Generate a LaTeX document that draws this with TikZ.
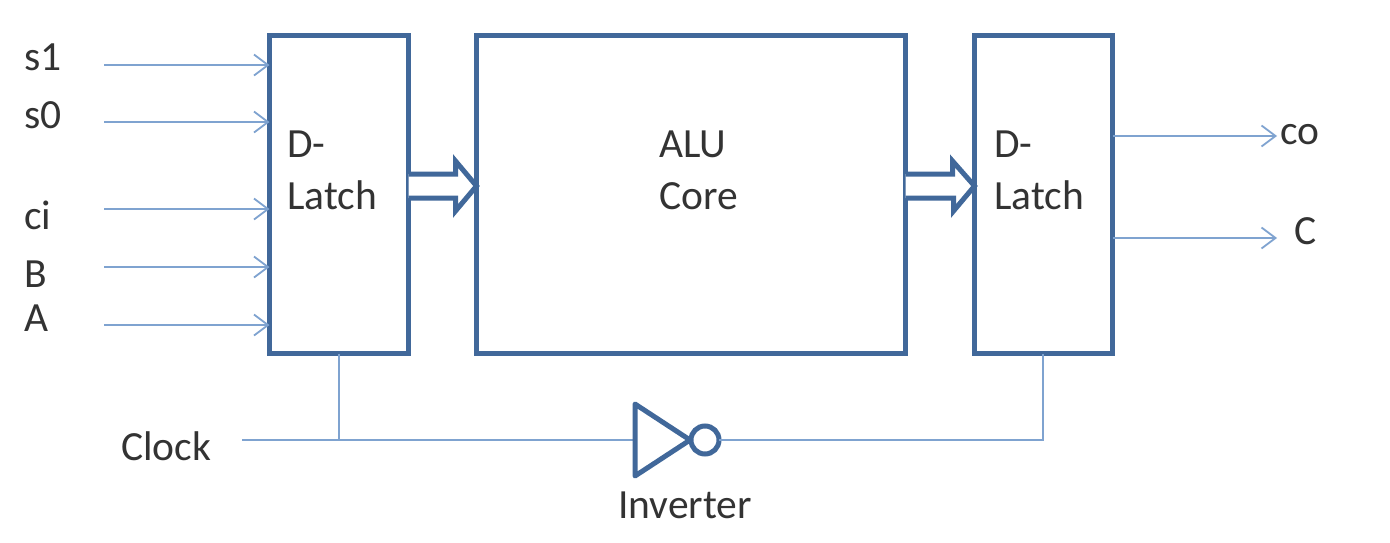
\documentclass[tikz,border=0pt]{standalone}
\usepackage{fontspec}
\setmainfont{Carlito}
\usetikzlibrary{arrows.meta}
\definecolor{thick}{HTML}{41689A}
\definecolor{thin}{HTML}{7FA3D0}
\definecolor{ink}{HTML}{333333}
\tikzset{
  x=1pt,y=-1pt,
  blockbox/.style={draw=thick,line width=5pt,fill=white,inner sep=0pt,outer sep=0pt,minimum width=#1,minimum height=318pt,anchor=north west},
  wire/.style={draw=thin,line width=1.8pt},
  inwire/.style={wire,-{Straight Barb[length=14pt,width=21pt,line width=1.8pt]}},
  bigarrow/.style={draw=thick,line width=5pt,fill=white,line join=miter},
  invshape/.style={draw=thick,line width=5pt,line join=round,fill=white},
  lab/.style={text=ink,font=\fontsize{41.5pt}{41.5pt}\selectfont,inner sep=0pt,anchor=base west},
}
\begin{document}
\begin{tikzpicture}
\useasboundingbox (0,0) rectangle (1390,542);
\fill[white] (0,0) rectangle (1390,542);
% blocks
\node[blockbox=139pt] (latchL) at (269.5,35.5) {};
\node[blockbox=429pt] (alu) at (476.5,35.5) {};
\node[blockbox=138pt] (latchR) at (974.5,35.5) {};
% wide arrows
\coordinate (a1s) at (latchL.east |- 0,186);
\coordinate (a1e) at (alu.west |- 0,186);
\coordinate (a2s) at (alu.east |- 0,186);
\coordinate (a2e) at (latchR.west |- 0,186);
\draw[bigarrow] ([yshift=12pt]a1s) -- ++(47,0) -- ++(0,-13) -- (a1e) -- ++(-21,25) -- ++(0,-13) -- ([yshift=-12pt]a1s);
\draw[bigarrow] ([yshift=12pt]a2s) -- ++(47,0) -- ++(0,-13) -- (a2e) -- ++(-21,25) -- ++(0,-13) -- ([yshift=-12pt]a2s);
% input labels and wires
\node[lab] (ls1) at (24,70) {s1};
\node[lab] (ls0) at (24,128) {s0};
\node[lab] (lci) at (24,229) {ci};
\node[lab] (lB) at (24,287) {B};
\node[lab] (lA) at (24,331) {A};
\coordinate (is1) at (104,65);
\coordinate (is0) at (104,122);
\coordinate (ici) at (104,209);
\coordinate (iB) at (104,267);
\coordinate (iA) at (104,325);
\foreach \c in {is1,is0,ici,iB,iA}{
  \draw[inwire] (\c) -- (\c -| latchL.west);
}
% block labels
\node[lab] (t1) at (287,157) {D-};
\node[lab] (t2) at (287,209) {Latch};
\node[lab] (t3) at (659,157) {ALU};
\node[lab] (t4) at (659,209) {Core};
\node[lab] (t5) at (994,157) {D-};
\node[lab] (t6) at (994,209) {Latch};
% outputs
\node[lab] (lco) at (1280,144) {co};
\node[lab] (lC) at (1294,244) {C};
\coordinate (oco) at (1277,136);
\coordinate (oC) at (1277,238);
\draw[inwire] (latchR.east |- oco) -- (oco);
\draw[inwire] (latchR.east |- oC) -- (oC);
% clock and inverter
\node[lab] (lclock) at (121,460) {Clock};
\coordinate (clk) at (242,440);
\coordinate (invin) at (635,440);
\coordinate (invtip) at (690,440);
\coordinate (tapL) at (339,440);
\coordinate (tapR) at (1043,440);
\node[draw=thick,line width=5pt,fill=white,circle,minimum size=28pt,inner sep=0pt,outer sep=0pt] (bubble) at (705,440) {};
\draw[wire] (clk) -- (invin);
\draw[wire] (bubble.east) -- (tapR) -- (tapR |- latchR.south);
\draw[wire] (tapL |- latchL.south) -- (tapL);
\draw[invshape] (invin |- 0,404) -- (invtip) -- (invin |- 0,476) -- cycle;
\node[lab] (linv) at (618,518) {Inverter};
\end{tikzpicture}
\end{document}
